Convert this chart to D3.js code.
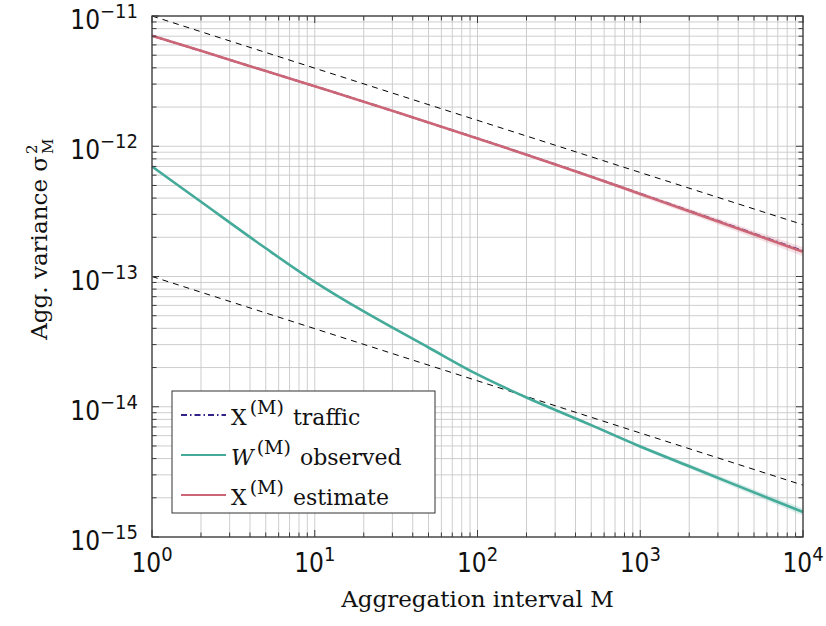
<!DOCTYPE html>
<html>
<head>
<meta charset="utf-8">
<script src="https://cdn.jsdelivr.net/npm/d3@7"></script>
<style>
  body { margin: 0; background: #fff; }
  text { font-family: "DejaVu Serif", serif; fill: #111; }
  .tick-num { font-family: "Liberation Sans Narrow", "DejaVu Sans Condensed", sans-serif; }
</style>
</head>
<body>
<svg id="chart" width="826" height="626"></svg>
<script>
// aggregation intervals M (x values)
let intervals = [1, 2, 5, 10, 20, 50, 100, 200, 500, 1000, 2000, 5000, 10000]
// X^(M) traffic (mostly hidden under the estimate)
let traffic = [7.06e-12, 5.4e-12, 3.78e-12, 2.89e-12, 2.2e-12, 1.52e-12, 1.15e-12, 8.62e-13, 5.85e-13, 4.32e-13, 3.19e-13, 2.13e-13, 1.57e-13]
// W^(M) observed
let observed = [6.99e-13, 3.745e-13, 1.646e-13, 9.1e-14, 5.39e-14, 2.85e-14, 1.77e-14, 1.178e-14, 7.22e-15, 4.95e-15, 3.49e-15, 2.2e-15, 1.555e-15]
let observedHi = [7.02e-13, 3.76e-13, 1.653e-13, 9.14e-14, 5.42e-14, 2.87e-14, 1.79e-14, 1.195e-14, 7.38e-15, 5.1e-15, 3.63e-15, 2.32e-15, 1.66e-15]
let observedLo = [6.96e-13, 3.73e-13, 1.639e-13, 9.06e-14, 5.36e-14, 2.83e-14, 1.75e-14, 1.16e-14, 7.06e-15, 4.8e-15, 3.35e-15, 2.08e-15, 1.46e-15]
// X^(M) estimate
let estimate = [7.06e-12, 5.4e-12, 3.775e-12, 2.885e-12, 2.198e-12, 1.522e-12, 1.147e-12, 8.61e-13, 5.83e-13, 4.3e-13, 3.172e-13, 2.109e-13, 1.55e-13]
let estimateHi = [7.1e-12, 5.43e-12, 3.8e-12, 2.91e-12, 2.22e-12, 1.54e-12, 1.165e-12, 8.78e-13, 5.98e-13, 4.46e-13, 3.32e-13, 2.25e-13, 1.68e-13]
let estimateLo = [7.02e-12, 5.37e-12, 3.75e-12, 2.86e-12, 2.175e-12, 1.505e-12, 1.13e-12, 8.45e-13, 5.68e-13, 4.14e-13, 3.02e-13, 1.98e-13, 1.43e-13]
// dashed reference slopes (two end points each)
let refM = [1, 10000]
let refUpper = [1e-11, 2.5e-13]
let refLower = [1e-13, 2.5e-15]
// tick labels
let xTicks = [1, 10, 100, 1000, 10000]
let xTickExp = ["0", "1", "2", "3", "4"]
let yTicks = [1e-11, 1e-12, 1e-13, 1e-14, 1e-15]
let yTickExp = ["\u221211", "\u221212", "\u221213", "\u221214", "\u221215"]

const svg = d3.select("#chart")
const pLeft = 152, pRight = 803, pTop = 16, pBottom = 537

let x = d3.scaleLog().domain([1, 1e4]).range([pLeft, pRight])
let y = d3.scaleLog().domain([1e-15, 1e-11]).range([pBottom, pTop])

//minor + major positions for grid and ticks
let xAll = [], yAll = []
for (let k = 0; k <= 4; k++) for (let m = 1; m <= 9; m++) { let v = m * Math.pow(10, k); if (v <= 1e4) xAll.push(v) }
for (let k = -15; k <= -11; k++) for (let m = 1; m <= 9; m++) { let v = m * Math.pow(10, k); if (v <= 1.0001e-11) yAll.push(v) }

let grid = svg.append("g")
grid.selectAll(".gx").data(xAll).enter().append("line")
  .attr("x1", d => x(d)).attr("x2", d => x(d)).attr("y1", pTop).attr("y2", pBottom)
  .attr("stroke", "#c8c8c8").attr("stroke-width", 0.9)
grid.selectAll(".gy").data(yAll).enter().append("line")
  .attr("y1", d => y(d)).attr("y2", d => y(d)).attr("x1", pLeft).attr("x2", pRight)
  .attr("stroke", "#c8c8c8").attr("stroke-width", 0.9)

// bands
const rows = (lo, hi) => intervals.map((M, i) => ({M, lo: lo[i], hi: hi[i]}))
let band = d3.area().x(d => x(d.M)).y0(d => y(d.lo)).y1(d => y(d.hi)).curve(d3.curveCatmullRom)
svg.append("path").datum(rows(estimateLo, estimateHi)).attr("d", band).attr("fill", "#CC6677").attr("opacity", 0.2)
svg.append("path").datum(rows(observedLo, observedHi)).attr("d", band).attr("fill", "#44AA99").attr("opacity", 0.2)

let line = d3.line().x(d => x(d[0])).y(d => y(d[1])).curve(d3.curveCatmullRom)
const pairs = (xs, ys) => xs.map((v, i) => [v, ys[i]])

// reference lines
svg.append("path").datum(pairs(refM, refUpper)).attr("d", line)
  .attr("fill", "none").attr("stroke", "#000").attr("stroke-width", 1).attr("stroke-dasharray", "6,5")
svg.append("path").datum(pairs(refM, refLower)).attr("d", line)
  .attr("fill", "none").attr("stroke", "#000").attr("stroke-width", 1).attr("stroke-dasharray", "6,5")

svg.append("path").datum(pairs(intervals, traffic)).attr("d", line)
  .attr("fill", "none").attr("stroke", "#332288").attr("stroke-width", 2).attr("stroke-dasharray", "6,3,1.5,3")
svg.append("path").datum(pairs(intervals, observed)).attr("d", line)
  .attr("fill", "none").attr("stroke", "#44AA99").attr("stroke-width", 2.6)
svg.append("path").datum(pairs(intervals, estimate)).attr("d", line)
  .attr("fill", "none").attr("stroke", "#CC6677").attr("stroke-width", 2.6)

// frame and inward ticks on all four sides
let axisCol = "#3a3a3a"
const isMajor = v => Math.abs(Math.log10(v) - Math.round(Math.log10(v))) < 1e-6
let ticks = svg.append("g").attr("stroke", axisCol).attr("stroke-width", 1)
xAll.forEach(v => {
  let len = isMajor(v) ? 7 : 4.5
  ticks.append("line").attr("x1", x(v)).attr("x2", x(v)).attr("y1", pBottom).attr("y2", pBottom - len)
  ticks.append("line").attr("x1", x(v)).attr("x2", x(v)).attr("y1", pTop).attr("y2", pTop + len)
})
yAll.forEach(v => {
  let len = isMajor(v) ? 7 : 4.5
  ticks.append("line").attr("y1", y(v)).attr("y2", y(v)).attr("x1", pLeft).attr("x2", pLeft + len)
  ticks.append("line").attr("y1", y(v)).attr("y2", y(v)).attr("x1", pRight).attr("x2", pRight - len)
})
svg.append("rect").attr("x", pLeft).attr("y", pTop).attr("width", pRight - pLeft).attr("height", pBottom - pTop)
  .attr("fill", "none").attr("stroke", axisCol).attr("stroke-width", 1.3)

// tick labels
xTicks.forEach((v, i) => {
  let t = svg.append("text").attr("class", "tick-num").attr("x", x(v)).attr("y", 572)
    .attr("text-anchor", "middle").attr("font-size", 26)
  t.append("tspan").text("10")
  t.append("tspan").attr("dy", -11).attr("font-size", 20).text(xTickExp[i])
})
yTicks.forEach((v, i) => {
  let t = svg.append("text").attr("class", "tick-num").attr("x", 138).attr("y", y(v) + 13)
    .attr("text-anchor", "end").attr("font-size", 26)
  t.append("tspan").text("10")
  t.append("tspan").attr("dy", -11).attr("font-size", 20).text(yTickExp[i])
})

// axis titles
svg.append("text").attr("x", (pLeft + pRight) / 2).attr("y", 607).attr("text-anchor", "middle")
  .attr("font-size", 23).text("Aggregation interval M")
let yl = svg.append("g").attr("transform", "translate(47,240) rotate(-90)")
yl.append("text").attr("x", 84).attr("y", 0).attr("text-anchor", "end").attr("font-size", 23).text("Agg. variance \u03c3")
yl.append("text").attr("x", 86).attr("y", -10).attr("font-size", 15).text("2")
yl.append("text").attr("x", 86).attr("y", 6).attr("font-size", 15).text("M")

// legend
let lg = svg.append("g")
lg.append("rect").attr("x", 172).attr("y", 391).attr("width", 263).attr("height", 122)
  .attr("fill", "#fff").attr("stroke", "#333").attr("stroke-width", 1)
let legendItems = [
  {name: "X", italic: false, label: "traffic", color: "#332288", dash: "6,3,1.5,3"},
  {name: "W", italic: true, label: "observed", color: "#44AA99", dash: null},
  {name: "X", italic: false, label: "estimate", color: "#CC6677", dash: null}
]
legendItems.forEach((d, i) => {
  let ly = 415 + i * 40
  lg.append("line").attr("x1", 181).attr("x2", 226).attr("y1", ly).attr("y2", ly)
    .attr("stroke", d.color).attr("stroke-width", 2).attr("stroke-dasharray", d.dash)
  let t = lg.append("text").attr("x", 231).attr("y", ly + 10).attr("font-size", 22)
  t.append("tspan").attr("font-style", d.italic ? "italic" : "normal").text(d.name)
  t.append("tspan").attr("dx", 3).attr("dy", -11).attr("font-size", 19).text("(M)")
  t.append("tspan").attr("dx", 9).attr("dy", 11).text(d.label)
})
</script>
</body>
</html>
